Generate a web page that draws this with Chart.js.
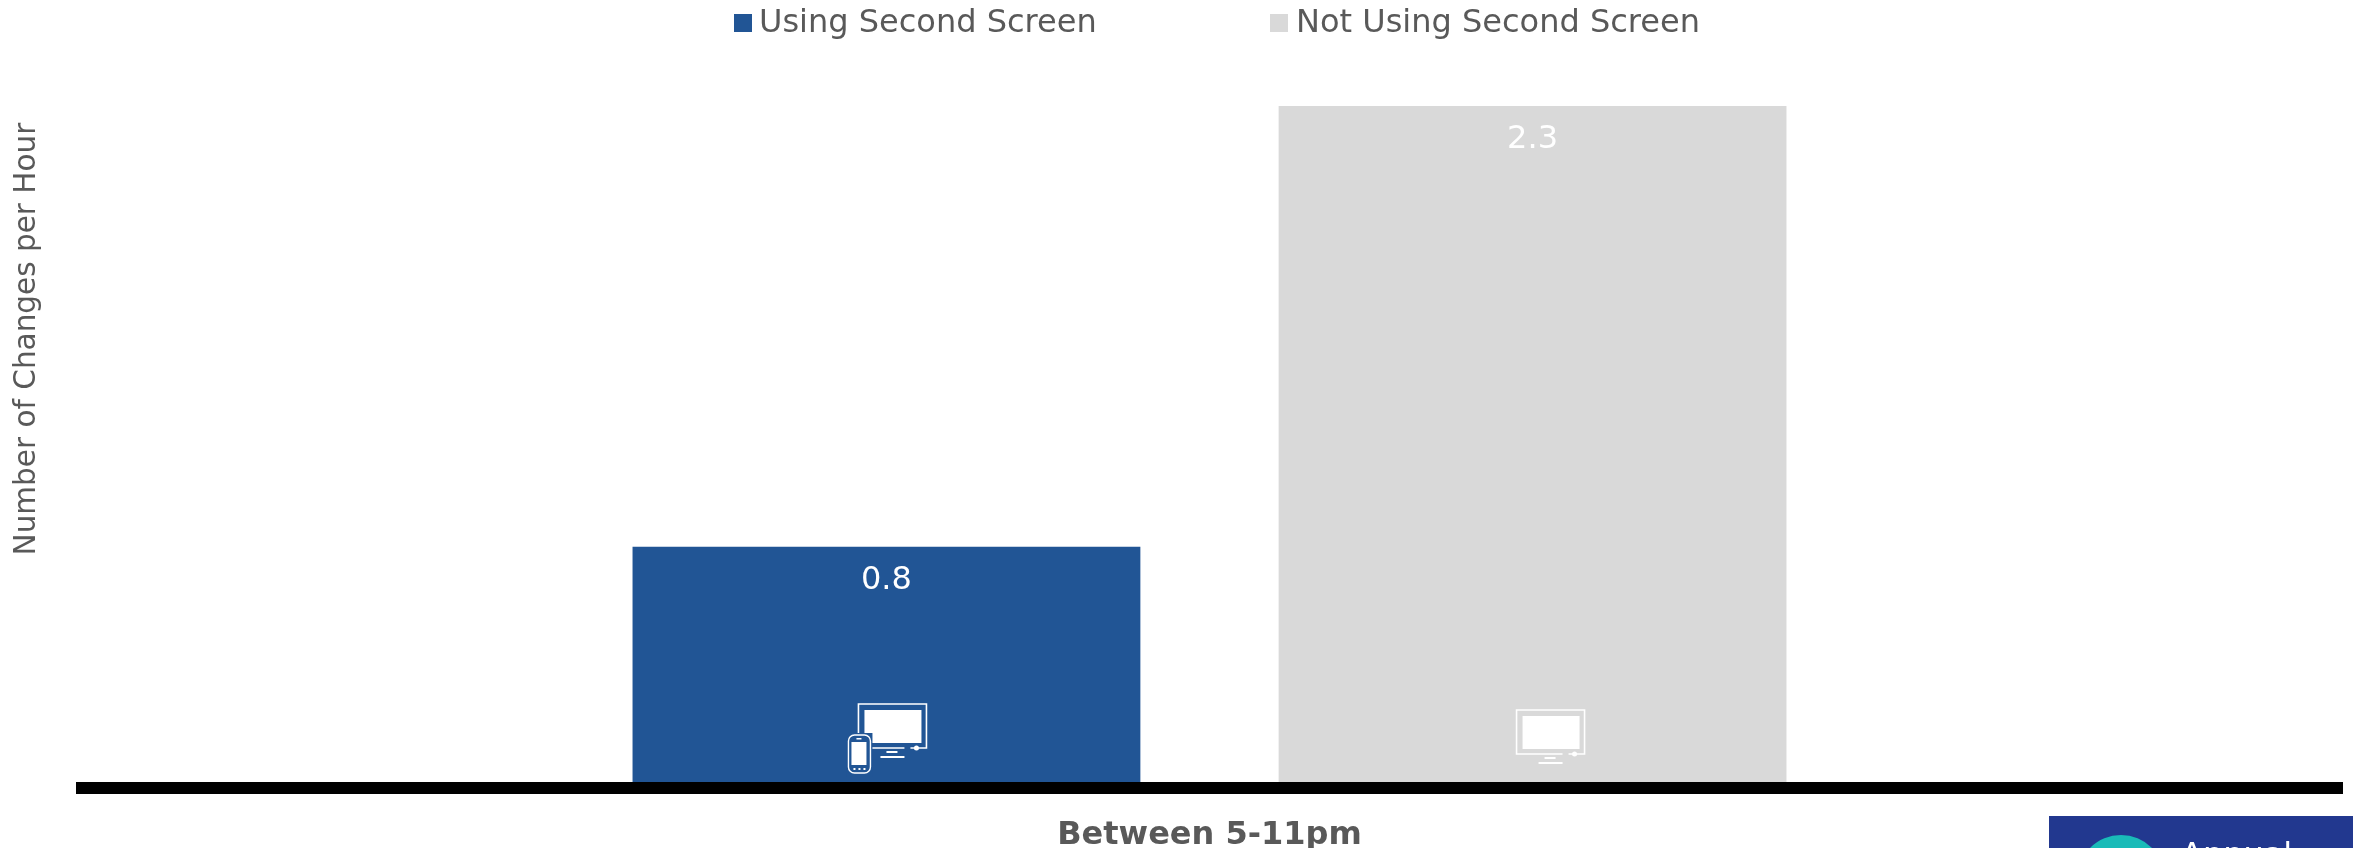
<!DOCTYPE html>
<html>
<head>
<meta charset="utf-8">
<style>
  html, body { margin: 0; padding: 0; background: #fff; overflow: hidden; }
  #wrap { position: relative; width: 2353px; height: 848px; }
</style>
<script src="https://cdn.jsdelivr.net/npm/chart.js@4"></script>
</head>
<body>
<div id="wrap"><canvas id="grafico" width="2353" height="848"></canvas></div>
<script>
const categorias = ['Between 5-11pm'];
const nomesSeries = ['Using Second Screen', 'Not Using Second Screen'];
const valoresCom = [0.8];
const valoresSem = [2.3];
const coresSeries = ['#215595', '#D9D9D9'];
const textoCinza = '#595959';
const fonte = '"DejaVu Sans"';

// TV outline with a stand, used inside both bars
function desenhaTv(ctx, x, y) {
  ctx.save();
  ctx.strokeStyle = '#fff';
  ctx.fillStyle = '#fff';
  ctx.lineWidth = 1.6;
  ctx.beginPath();
  ctx.moveTo(x + 52, y + 44);
  ctx.lineTo(x + 68, y + 44);
  ctx.lineTo(x + 68, y);
  ctx.lineTo(x, y);
  ctx.lineTo(x, y + 44);
  ctx.lineTo(x + 46, y + 44);
  ctx.stroke();
  ctx.fillRect(x + 6, y + 6, 57, 33);
  ctx.beginPath();
  ctx.arc(x + 58, y + 44, 2.5, 0, Math.PI * 2);
  ctx.fill();
  ctx.fillRect(x + 28, y + 47, 11, 2);
  ctx.fillRect(x + 22, y + 52, 24, 2);
  ctx.restore();
}

function desenhaCelular(ctx, x, y, cor) {
  ctx.save();
  ctx.fillStyle = cor;
  ctx.fillRect(x - 2, y - 2, 26, 44);
  ctx.strokeStyle = '#fff';
  ctx.fillStyle = '#fff';
  ctx.lineWidth = 1.4;
  ctx.beginPath();
  ctx.roundRect(x, y, 22, 38, 6);
  ctx.stroke();
  ctx.fillRect(x + 3, y + 7, 15, 23);
  ctx.fillRect(x + 8, y + 3, 5, 1.5);
  [6, 11, 16].forEach(d => ctx.fillRect(x + d - 1, y + 33, 2, 2));
  ctx.restore();
}

// Draws the icons on the bars, the thick baseline and the corner badge
const detalhes = {
  id: 'detalhes',
  afterDatasetsDraw(chart) {
    const ctx = chart.ctx;
    const base = chart.scales.y.getPixelForValue(0);
    const com = chart.getDatasetMeta(0).data[0];
    const sem = chart.getDatasetMeta(1).data[0];

    desenhaTv(ctx, com.x - 28, base - 78);
    desenhaCelular(ctx, com.x - 38, base - 47, coresSeries[0]);
    desenhaTv(ctx, sem.x - 16, base - 72);

    ctx.fillStyle = '#000';
    ctx.fillRect(chart.chartArea.left, base, chart.chartArea.right - chart.chartArea.left, 12);

    ctx.save();
    ctx.fillStyle = '#22388F';
    ctx.fillRect(2049, 816, 304, 32);
    ctx.fillStyle = '#19BBB8';
    ctx.beginPath();
    ctx.arc(2121, 878.5, 43.5, 0, Math.PI * 2);
    ctx.fill();
    ctx.fillStyle = '#fff';
    ctx.font = '32px ' + fonte;
    ctx.textBaseline = 'alphabetic';
    ctx.fillText('Annual', 2181, 865);
    ctx.restore();
  }
};

// Value labels sit just under the top of each bar
const rotulos = {
  id: 'rotulos',
  afterDatasetsDraw(chart) {
    const ctx = chart.ctx;
    ctx.save();
    ctx.fillStyle = '#fff';
    ctx.font = '32px ' + fonte;
    ctx.textAlign = 'center';
    ctx.textBaseline = 'middle';
    chart.data.datasets.forEach((ds, i) => {
      const bar = chart.getDatasetMeta(i).data[0];
      ctx.fillText(ds.data[0].toFixed(1), bar.x, bar.y + 34);
    });
    ctx.restore();
  }
};

new Chart(document.getElementById('grafico'), {
  type: 'bar',
  data: {
    labels: categorias,
    datasets: [
      { label: nomesSeries[0], data: valoresCom, backgroundColor: coresSeries[0] },
      { label: nomesSeries[1], data: valoresSem, backgroundColor: coresSeries[1] }
    ]
  },
  options: {
    responsive: false,
    animation: false,
    devicePixelRatio: 1,
    layout: { padding: { left: 76, right: 10, top: 106, bottom: 0 } },
    datasets: { bar: { barPercentage: 0.786, categoryPercentage: 0.57 } },
    scales: {
      x: {
        afterFit(escala) { escala.height = 66; },
        grid: { display: false },
        border: { display: false },
        ticks: { color: textoCinza, padding: 26, font: { family: fonte, size: 32, weight: 'bold' } }
      },
      y: {
        display: false,
        min: 0,
        max: 2.3
      }
    },
    plugins: {
      legend: { display: false },
      tooltip: { enabled: false }
    }
  },
  plugins: [rotulos, detalhes, {
    id: 'textosFixos',
    afterDraw(chart) {
      const ctx = chart.ctx;
      ctx.save();
      ctx.fillStyle = textoCinza;
      ctx.font = '32px ' + fonte;
      ctx.textBaseline = 'middle';
      ctx.fillText(nomesSeries[0], 759, 24);
      ctx.fillText(nomesSeries[1], 1296, 24);
      ctx.fillStyle = coresSeries[0];
      ctx.fillRect(734, 14, 18, 18);
      ctx.fillStyle = coresSeries[1];
      ctx.fillRect(1270, 14, 18, 18);
      ctx.translate(27, 339);
      ctx.rotate(-Math.PI / 2);
      ctx.textAlign = 'center';
      ctx.fillStyle = textoCinza;
      ctx.font = '29.5px ' + fonte;
      ctx.fillText('Number of Changes per Hour', 0, 0);
      ctx.restore();
    }
  }]
});
</script>
</body>
</html>
